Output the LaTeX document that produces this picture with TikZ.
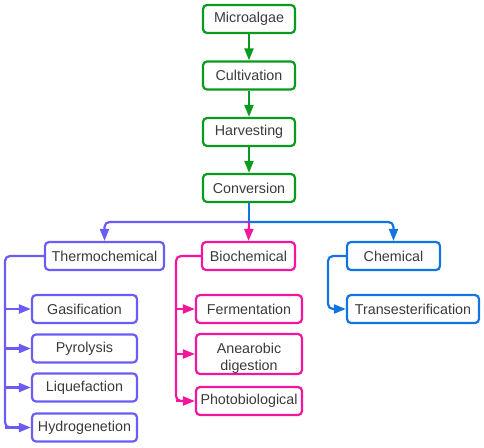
\documentclass[tikz,border=0pt]{standalone}
\usepackage{fontspec}
\setmainfont{Liberation Sans}
\usetikzlibrary{arrows.meta}
\definecolor{cgreen}{HTML}{0A9A1E}
\definecolor{cpurple}{HTML}{6A5CF5}
\definecolor{cpink}{HTML}{F2159E}
\definecolor{cblue}{HTML}{1274E0}
\definecolor{ctext}{HTML}{3A3A3A}
\tikzset{
  box/.style={draw, line width=2.2pt, rounded corners=4pt, minimum height=28pt, text=ctext, font=\fontsize{14.3}{17}\selectfont, inner sep=0pt, align=center},
  conn/.style={line width=2.2pt, rounded corners=5pt, -{Triangle[length=12pt,width=9pt]}},
  plain/.style={line width=2.2pt, rounded corners=5pt},
}
\begin{document}
\begin{tikzpicture}[x=1pt,y=-1pt]
\useasboundingbox (0,0) rectangle (484,447);
% green chain
\node[box, draw=cgreen, minimum width=92pt] (micro) at (249,19) {Microalgae};
\node[box, draw=cgreen, minimum width=92pt] (cult) at (249,75.5) {Cultivation};
\node[box, draw=cgreen, minimum width=92pt] (harv) at (249,132) {Harvesting};
\node[box, draw=cgreen, minimum width=92pt] (conv) at (249,188) {Conversion};
\draw[conn, cgreen] (micro) -- (cult);
\draw[conn, cgreen] (cult) -- (harv);
\draw[conn, cgreen] (harv) -- (conv);
% second level
\node[box, draw=cpurple, minimum width=119pt] (thermo) at (104.5,256) {Thermochemical};
\node[box, draw=cpink, minimum width=93pt] (bio) at (248.5,256) {Biochemical};
\node[box, draw=cblue, minimum width=93pt] (chem) at (393.5,256) {Chemical};
\coordinate (junc) at (249,222);
\draw[plain, cblue] (conv.south) -- (junc);
\draw[conn, cpurple] (junc) -| (thermo.north);
\draw[conn, cpink] (junc) -- (bio.north);
\draw[conn, cblue] (junc) -| (chem.north);
% thermochemical children
\node[box, draw=cpurple, minimum width=105pt] (gas) at (84.5,309) {Gasification};
\node[box, draw=cpurple, minimum width=105pt] (pyro) at (84.5,348.5) {Pyrolysis};
\node[box, draw=cpurple, minimum width=105pt] (liq) at (84.5,387.5) {Liquefaction};
\node[box, draw=cpurple, minimum width=105pt] (hyd) at (84.5,427.5) {Hydrogenetion};
\coordinate (tspine) at (5,256);
\draw[plain, cpurple] (thermo.west) -- (tspine) -- (tspine |- hyd.west) -- ([xshift=-12pt]hyd.west);
\foreach \n in {gas,pyro,liq,hyd}
  \draw[conn, cpurple, rounded corners=0pt] (tspine |- \n.west) -- (\n.west);
% biochemical children
\node[box, draw=cpink, minimum width=106pt] (ferm) at (249,309) {Fermentation};
\node[box, draw=cpink, minimum width=106pt, minimum height=40pt] (anae) at (249,354) {\rule{0pt}{18pt}Anearobic\\digestion};
\node[box, draw=cpink, minimum width=106pt] (photo) at (249,401) {Photobiological};
\coordinate (bspine) at (176,256);
\draw[plain, cpink] (bio.west) -- (bspine) -- (bspine |- photo.west) -- ([xshift=-12pt]photo.west);
\foreach \n in {ferm,anae,photo}
  \draw[conn, cpink, rounded corners=0pt] (bspine |- \n.west) -- (\n.west);
% chemical child
\node[box, draw=cblue, minimum width=132pt] (trans) at (413,309) {Transesterification};
\coordinate (cspine) at (328,256);
\draw[conn, cblue] (chem.west) -- (cspine) |- (trans.west);
\end{tikzpicture}
\end{document}
